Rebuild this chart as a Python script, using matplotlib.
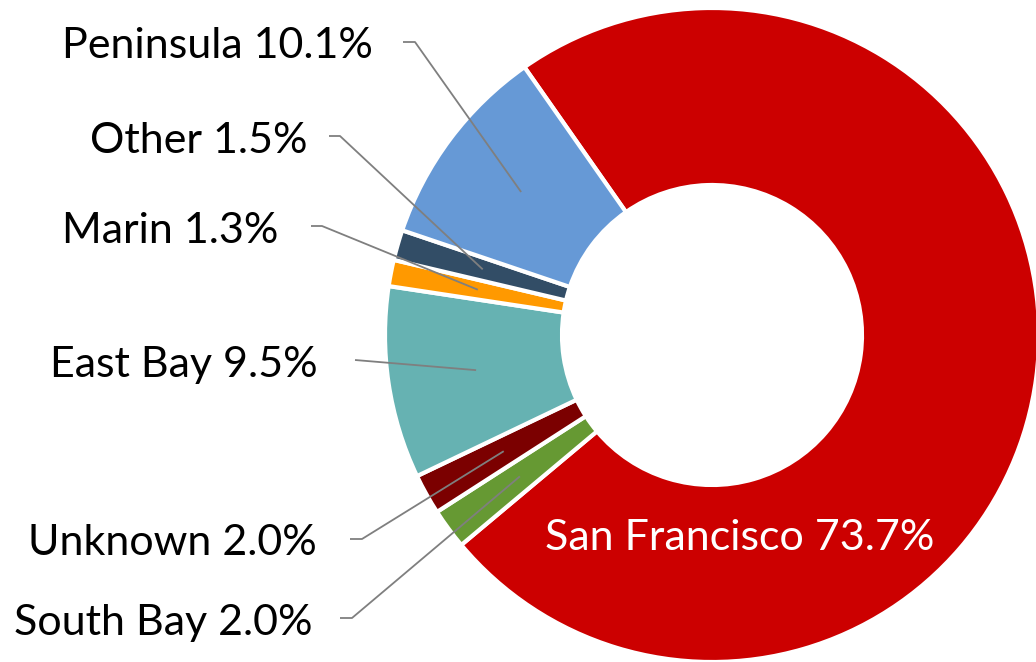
import numpy as np
import matplotlib
matplotlib.use("Agg")
import matplotlib.pyplot as plt

# data, in clockwise order starting from San Francisco
regions = ["San Francisco", "South Bay", "Unknown", "East Bay", "Marin", "Other", "Peninsula"]
shares = [73.7, 2.0, 2.0, 9.5, 1.3, 1.5, 10.1]
colors = ["#cc0000", "#669933", "#7b0000", "#66b2b2", "#ff9900", "#324d66", "#6699d6"]

W, H = 1036, 662
CX, CY, R = 712, 335, 327   # donut centre / outer radius in pixels
START = 125
HOLE = 150 / 327


def px(x, y):
    # pixel position (top-left origin) -> data coords
    return (x - CX) / R, (CY - y) / R


plt.rcParams['font.family'] = ['Lato', 'DejaVu Sans']
fig = plt.figure(figsize=(W / 100, H / 100), dpi=100)
ax = fig.add_axes([0, 0, 1, 1])

wedges, _ = ax.pie(shares, colors=colors, startangle=START, counterclock=False,
                   radius=1, wedgeprops=dict(width=1 - HOLE, edgecolor='white', linewidth=3))
ax.set_aspect('auto')
ax.set_xlim(-CX / R, (W - CX) / R)
ax.set_ylim(-(H - CY) / R, CY / R)
ax.axis('off')

# label layout: (text right x, baseline y, line start x, elbow x, line y) in pixels
layout = {
    "South Bay": (313, 635, 340, 352, 618),
    "Unknown": (317, 555, 350, 362, 539),
    "East Bay": (318, 377, 355, 355, 360),
    "Marin": (278, 243, 311, 322, 226),
    "Other": (308, 153, 329, 340, 136),
    "Peninsula": (373, 58, 403, 415, 42),
}

fs = 31
rmid = (1 + HOLE) / 2
for w, name, val in zip(wedges, regions, shares):
    ang = np.deg2rad((w.theta1 + w.theta2) / 2)
    label = f"{name} {val:.1f}%"
    if name == "San Francisco":
        tx, ty = px(740, 550)
        ax.text(tx, ty, label, color='white', fontsize=fs, ha='center', va='baseline')
        continue
    trx, tby, lx0, lx1, ly = layout[name]
    tx, ty = px(trx, tby)
    ax.text(tx, ty, label, color='black', fontsize=fs, ha='right', va='baseline')
    ex, ey = rmid * np.cos(ang), rmid * np.sin(ang)
    a = px(lx0, ly)
    b = px(lx1, ly)
    ax.plot([a[0], b[0], ex], [a[1], b[1], ey], color='#7f7f7f', lw=1.3, solid_capstyle='butt')

fig.savefig("out.png", dpi=100)
